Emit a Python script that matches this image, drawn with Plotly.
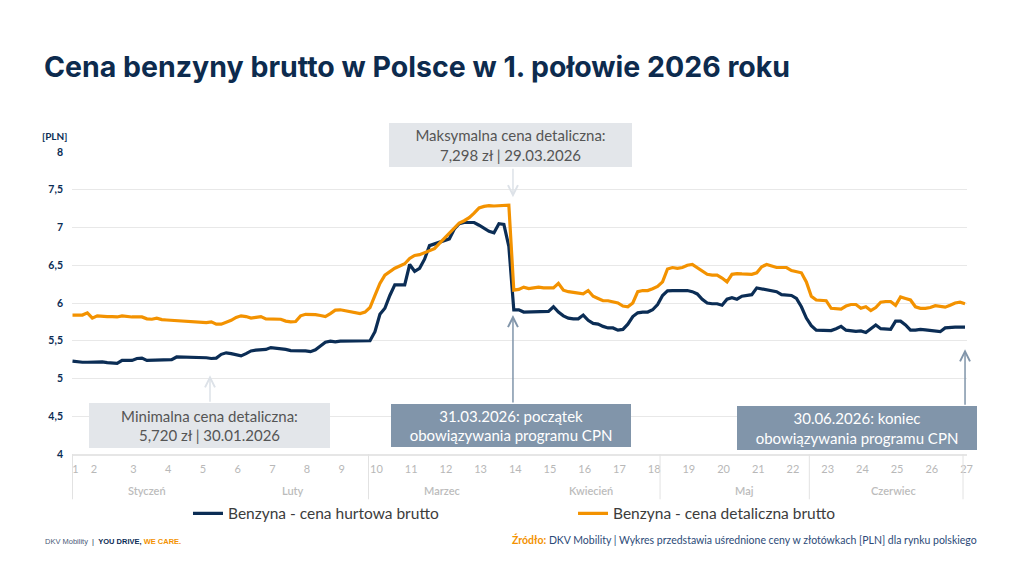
import plotly.graph_objects as go
import pandas as pd

# daily prices, 01.01.2026 - 30.06.2026 [PLN]
dates = pd.date_range("2026-01-01", "2026-06-30", freq="D")

hurt = [
    5.23, 5.22, 5.215, 5.215, 5.22, 5.22, 5.22,
    5.21, 5.20, 5.20, 5.24, 5.24, 5.24, 5.265,
    5.27, 5.24, 5.24, 5.24, 5.24, 5.24, 5.25,
    5.285, 5.285, 5.285, 5.285, 5.28, 5.28, 5.275,
    5.265, 5.27, 5.32, 5.34, 5.33, 5.315, 5.30,
    5.33, 5.365, 5.375, 5.38, 5.385, 5.41, 5.405,
    5.40, 5.385, 5.37, 5.37, 5.37, 5.365, 5.355,
    5.38, 5.43, 5.48, 5.495, 5.485, 5.495, 5.495,
    5.49, 5.495, 5.50, 5.495, 5.50, 5.62, 5.85,
    5.93, 6.10, 6.24, 6.24, 6.24, 6.51, 6.42,
    6.46, 6.58, 6.76, 6.785, 6.80, 6.83, 6.85,
    6.98, 7.05, 7.066, 7.066, 7.066, 7.03, 6.99,
    6.95, 6.93, 7.05, 7.04, 6.75, 5.91, 5.91,
    5.88, 5.88, 5.885, 5.885, 5.885, 5.89, 5.95,
    5.88, 5.83, 5.80, 5.79, 5.79, 5.84, 5.77,
    5.73, 5.72, 5.69, 5.67, 5.67, 5.64, 5.65,
    5.72, 5.82, 5.87, 5.88, 5.88, 5.91, 5.98,
    6.10, 6.16, 6.165, 6.165, 6.165, 6.165, 6.15,
    6.12, 6.05, 6.00, 5.99, 5.99, 5.97, 6.05,
    6.07, 6.05, 6.09, 6.10, 6.11, 6.20, 6.19,
    6.17, 6.16, 6.15, 6.11, 6.11, 6.10, 6.06,
    5.95, 5.80, 5.70, 5.64, 5.64, 5.64, 5.635,
    5.66, 5.69, 5.64, 5.63, 5.625, 5.63, 5.61,
    5.66, 5.71, 5.66, 5.65, 5.65, 5.76, 5.76,
    5.71, 5.64, 5.64, 5.65, 5.645, 5.64, 5.635,
    5.62, 5.67, 5.68, 5.68, 5.68, 5.68,
]

detal = [
    5.84, 5.84, 5.84, 5.87, 5.80, 5.83, 5.82,
    5.82, 5.82, 5.815, 5.83, 5.82, 5.815, 5.815,
    5.815, 5.79, 5.785, 5.80, 5.78, 5.775, 5.77,
    5.76, 5.755, 5.755, 5.755, 5.75, 5.735, 5.74,
    5.75, 5.72, 5.72, 5.74, 5.77, 5.81, 5.83,
    5.82, 5.80, 5.81, 5.82, 5.79, 5.79, 5.785,
    5.785, 5.76, 5.75, 5.755, 5.83, 5.85, 5.85,
    5.845, 5.835, 5.82, 5.86, 5.905, 5.91, 5.90,
    5.89, 5.87, 5.86, 5.88, 5.94, 6.10, 6.26,
    6.37, 6.42, 6.46, 6.49, 6.52, 6.59, 6.63,
    6.64, 6.67, 6.70, 6.72, 6.79, 6.86, 6.92,
    6.99, 7.06, 7.09, 7.13, 7.19, 7.26, 7.28,
    7.29, 7.285, 7.29, 7.298, 7.295, 6.17, 6.18,
    6.21, 6.19, 6.20, 6.21, 6.20, 6.20, 6.20,
    6.26, 6.17, 6.15, 6.14, 6.14, 6.12, 6.165,
    6.09, 6.06, 6.03, 6.03, 6.02, 6.00, 5.96,
    5.95, 6.00, 6.15, 6.165, 6.165, 6.19, 6.22,
    6.28, 6.45, 6.47, 6.46, 6.47, 6.50, 6.51,
    6.47, 6.43, 6.38, 6.37, 6.37, 6.33, 6.28,
    6.38, 6.39, 6.385, 6.38, 6.38, 6.40, 6.48,
    6.51, 6.49, 6.47, 6.47, 6.47, 6.43, 6.42,
    6.40, 6.28, 6.09, 6.04, 6.04, 6.03, 5.93,
    5.925, 5.92, 5.96, 5.98, 5.98, 5.93, 5.95,
    5.90, 5.94, 6.01, 6.02, 6.02, 5.97, 6.08,
    6.06, 6.04, 5.95, 5.93, 5.93, 5.94, 5.965,
    5.955, 5.945, 5.97, 6.00, 6.01, 5.99,
]

weeks = list(range(1, 28))
months = ["Styczeń", "Luty", "Marzec", "Kwiecień", "Maj", "Czerwiec"]

NAVY = "#0b2d55"
ORANGE = "#f39200"
SLATE = "#8195aa"
LIGHT = "#e3e6ea"

start = dates[0]


def day(d):
    return start + pd.to_timedelta(d, unit="D")


# week labels sit a little after each Monday
week_pos = [0.6, 4.3] + [7 * k - 8.7 for k in weeks[2:]]
month_mid = [15, 44.5, 74.5, 104.5, 135.5, 165.5]
separators = [0, 59.7, 118.5, 148.6, 179.6]

fig = go.Figure()

fig.add_trace(go.Scatter(
    x=dates, y=hurt, mode="lines", name="Benzyna - cena hurtowa brutto",
    line=dict(color=NAVY, width=3.2), legend="legend",
))
fig.add_trace(go.Scatter(
    x=dates, y=detal, mode="lines", name="Benzyna - cena detaliczna brutto",
    line=dict(color=ORANGE, width=3.2), legend="legend2",
))

shapes = []
for s in separators:
    shapes.append(dict(type="line", xref="x", yref="paper", x0=day(s), x1=day(s),
                       y0=0, y1=-0.15, line=dict(color="#e2e2e2", width=1)))

ann = []
for m, mid in zip(months, month_mid):
    ann.append(dict(x=day(mid), y=-0.1225, xref="x", yref="paper", text=m,
                    yanchor="middle", showarrow=False,
                    font=dict(size=11, color="#bcbcbc", weight=600)))

boxes = [
    ("Minimalna cena detaliczna:<br>5,720 zł | 30.01.2026", 0.1536, 0.0943, 241, 45, LIGHT, "#555555"),
    ("Maksymalna cena detaliczna:<br>7,298 zł | 29.03.2026", 0.4899, 1.0221, 243, 44, LIGHT, "#555555"),
    ("31.03.2026: początek<br>obowiązywania programu CPN", 0.4905, 0.0943, 240, 43, SLATE, "#ffffff"),
    ("30.06.2026: koniec<br>obowiązywania programu CPN", 0.8771, 0.0860, 240, 44, SLATE, "#ffffff"),
]
for text, bx, by, w, h, bg, fc in boxes:
    ann.append(dict(x=bx, y=by, xref="paper", yref="paper", text=text, showarrow=False,
                    xanchor="center", yanchor="middle",
                    width=w, height=h, bgcolor=bg, borderpad=0, borderwidth=0,
                    font=dict(size=15, color=fc, family="Lato")))

arrows = [
    (0.1542, 0.261, 28, "#dde2e8"),
    (0.4927, 0.850, -30, "#dde2e8"),
    (0.4927, 0.460, 89, SLATE),
    (0.9978, 0.347, 57, SLATE),
]
for ax_x, ax_y, length, col in arrows:
    ann.append(dict(x=ax_x, y=ax_y, xref="paper", yref="paper", text="", showarrow=True,
                    ax=0, ay=length, arrowhead=5, arrowsize=1.3, arrowwidth=1.5,
                    arrowcolor=col, standoff=0))

ann.append(dict(x=-0.0358, y=1.078, xref="paper", yref="paper", text="<b>[PLN]</b>",
                showarrow=False, xanchor="left", font=dict(size=10, color=NAVY)))
ann.append(dict(x=-0.0324, y=-0.311, xref="paper", yref="paper", xanchor="left",
                showarrow=False,
                text="<span style='color:#4a5a78'>DKV Mobility</span>  |  <b>YOU DRIVE, </b>"
                     "<b><span style='color:#f39200'>WE CARE.</span></b>",
                font=dict(size=7.5, color=NAVY, family="Liberation Sans")))
ann.append(dict(x=1.0134, y=-0.311, xref="paper", yref="paper", xanchor="right",
                showarrow=False,
                text="<b><span style='color:#f39200'>Źródło:</span></b> DKV Mobility | Wykres przedstawia "
                     "uśrednione ceny w złotówkach [PLN] dla rynku polskiego",
                font=dict(size=10.5, color="#2c4a78", family="Lato")))

leg = dict(orientation="h", y=-0.198, yanchor="middle", xanchor="left",
           bgcolor="rgba(0,0,0,0)", borderwidth=0,
           font=dict(size=15.5, color="#3c3c3c", family="Lato"))

# page has an 8px body margin, so the figure is drawn 8px smaller and offset
fig.update_layout(
    width=1008, height=560,
    margin=dict(l=64, r=49, t=144, b=114),
    paper_bgcolor="white", plot_bgcolor="white",
    separators=", ",
    font=dict(family="Lato", color="#444444"),
    title=dict(text="<b>Cena benzyny brutto w Polsce w 1. połowie 2026 roku</b>",
               x=0.0357, xanchor="left", y=0.8946, yanchor="middle",
               font=dict(size=28.5, color="#0d2b4e", family="Inter")),
    showlegend=True,
    legend=dict(leg, x=0.1296),
    legend2=dict(leg, x=0.5598),
    shapes=shapes,
    annotations=ann,
)

fig.update_xaxes(
    type="date",
    range=[day(-0.1), day(180.4)],
    tickvals=[day(p) for p in week_pos],
    ticktext=[str(w) for w in weeks],
    tickfont=dict(size=11, color="#b8b8b8"),
    ticks="", ticklabelstandoff=4,
    showgrid=False, zeroline=False,
    showline=True, linecolor="#e6e6e6", linewidth=2,
)
fig.update_yaxes(
    range=[4, 8], dtick=0.5, tick0=4,
    showgrid=True, gridcolor="#e8e8e8", gridwidth=1,
    zeroline=False, ticks="", ticklabelstandoff=8,
    tickfont=dict(size=10.5, color=NAVY, weight="bold"),
)

fig.write_html("out.html")
